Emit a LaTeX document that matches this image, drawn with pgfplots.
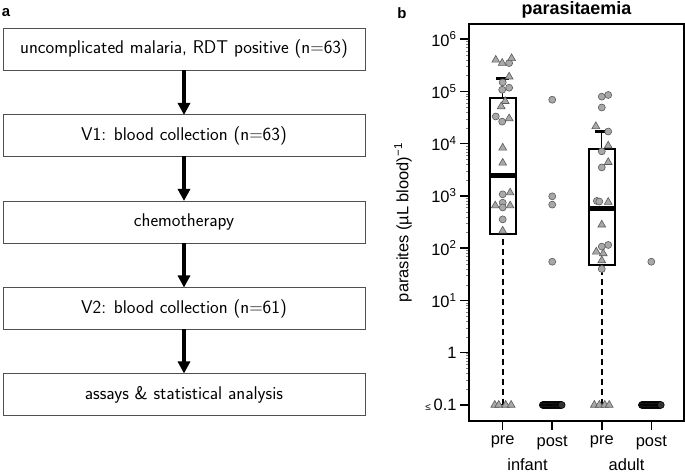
\documentclass[border=0pt]{standalone}
\usepackage{pgfplots}
\pgfplotsset{compat=1.18}
\usepackage{pgfplotstable}
\usepackage{fontspec}
\newfontfamily\helv{Liberation Sans}
\usetikzlibrary{arrows.meta}
\definecolor{ptfill}{HTML}{A8A8A8}
\definecolor{ptdraw}{HTML}{5A5A5A}
\definecolor{boxgray}{HTML}{505050}

% infant pre
\pgfplotstableread{
x y
1.13 347000
1.00 148000
1.13 117000
0.99 107000
0.86 33000
0.99 26300
1.00 1070
1.00 740
1.00 600
1.00 355
}\infpreC
\pgfplotstableread{
x y
0.86 398000
0.99 347000
1.18 427000
1.13 190000
1.05 64600
0.97 51300
1.13 30200
1.00 8300
1.00 4270
1.15 1150
0.85 650
1.15 650
1.00 214
0.84 0.1
0.92 0.1
1.06 0.1
1.17 0.1
}\infpreT
\pgfplotstableread{
x y
2.00 69000
2.00 980
2.00 680
2.00 55
}\infpostC
\pgfplotstableread{
x y
1.81 0.1
1.83 0.1
1.85 0.1
1.87 0.1
1.89 0.1
1.91 0.1
1.93 0.1
1.95 0.1
1.97 0.1
1.99 0.1
2.01 0.1
2.03 0.1
2.05 0.1
2.07 0.1
2.09 0.1
2.11 0.1
2.13 0.1
2.15 0.1
2.17 0.1
2.19 0.1
}\infpostZ
\pgfplotstableread{
x y
3.00 79000
3.13 85000
3.00 49000
3.13 17000
3.00 7100
3.00 3500
2.90 800
2.95 780
3.00 107
3.13 115
3.00 40
}\adpreC
\pgfplotstableread{
x y
2.88 21400
3.13 9100
3.13 4400
3.13 760
3.00 280
2.89 85
3.03 79
3.00 58
2.85 0.1
2.95 0.1
3.06 0.1
3.15 0.1
}\adpreT
\pgfplotstableread{
x y
4.00 55
}\adpostC
\pgfplotstableread{
x y
3.81 0.1
3.83 0.1
3.85 0.1
3.87 0.1
3.89 0.1
3.91 0.1
3.93 0.1
3.95 0.1
3.97 0.1
3.99 0.1
4.01 0.1
4.03 0.1
4.05 0.1
4.07 0.1
4.09 0.1
4.11 0.1
4.13 0.1
4.15 0.1
4.17 0.1
4.19 0.1
}\adpostZ

\begin{document}
\begin{tikzpicture}[x=1bp,y=1bp]
\path[use as bounding box] (0,0) rectangle (685,474);
\tikzset{fbox/.style={draw=boxgray, line width=0.9bp, fill=white, minimum width=362bp, minimum height=42bp, inner sep=0pt, font=\sffamily\fontsize{18.5}{21}\selectfont},
 farr/.style={line width=3.5bp, -{Triangle[width=12bp,length=12bp]}}}
\node[fbox] at (184,425) {uncomplicated malaria, RDT positive (n=63)};
\node[fbox] at (184,338.5) {V1: blood collection (n=63)};
\node[fbox] at (184,252) {chemotherapy};
\node[fbox] at (184,165.5) {V2: blood collection (n=61)};
\node[fbox] at (184,79.5) {assays \& statistical analysis};
\draw[farr] (184,404) -- (184,359);
\draw[farr] (184,317.5) -- (184,273);
\draw[farr] (184,231) -- (184,186.5);
\draw[farr] (184,144.5) -- (184,100.5);
\node[font=\helv\bfseries\fontsize{15}{18}\selectfont] at (6,461) {a};
\node[font=\helv\bfseries\fontsize{15}{18}\selectfont] at (402,461) {b};

\begin{axis}[at={(469bp,53bp)}, anchor=south west, scale only axis,
  width=215bp, height=397bp,
  xmin=0.32, xmax=4.66, ymode=log, ymin=0.0494, ymax=1.94e6,
  clip=false,
  axis line style={line width=2bp},
  major tick style={line width=1.5bp, black},
  major tick length=9bp, tick align=outside, tick pos=left,
  minor tick num=0,
  xtick={1,2,3,4}, xticklabels={pre,post,pre,post},
  ytick={0.1,1,10,100,1000,10000,100000,1000000},
  yticklabels={{\fontsize{10}{10}\selectfont ≤}\,0.1, 1, 10\textsuperscript{1}, 10\textsuperscript{2}, 10\textsuperscript{3}, 10\textsuperscript{4}, 10\textsuperscript{5}, 10\textsuperscript{6}},
  ticklabel style={font=\helv\fontsize{16.5}{19}\selectfont},
  xticklabel style={yshift=-2bp},
  ylabel={parasites (µL blood)\textsuperscript{−1}},
  ylabel style={font=\helv\fontsize{16.5}{19}\selectfont, at={(axis description cs:-0.307,0.5)}, anchor=center},
]
% boxes
\addplot[black, line width=2bp, line join=miter, line cap=rect, no markers] coordinates {(0.74,190)(1.26,190)(1.26,75000)(0.74,75000)(0.74,190)};
\addplot[black, line width=2bp, line join=miter, line cap=rect, no markers] coordinates {(2.74,48)(3.26,48)(3.26,8000)(2.74,8000)(2.74,48)};
\addplot[black, line width=1.8bp, dash pattern=on 6bp off 4bp, no markers] coordinates {(1,0.1)(1,190)};
\addplot[black, line width=1.8bp, dash pattern=on 6bp off 4bp, no markers] coordinates {(3,0.1)(3,48)};
\addplot[black, line width=1.2bp, no markers] coordinates {(1,75000)(1,178000)};
\addplot[black, line width=1.2bp, no markers] coordinates {(3,8000)(3,17000)};
% points
\addplot[only marks, mark=*, mark size=3.5bp, mark options={fill=ptfill, draw=ptdraw, line width=0.6bp}] table {\infpreC};
\addplot[only marks, mark=triangle*, mark size=4.5bp, mark options={fill=ptfill, draw=ptdraw, line width=0.6bp}] table {\infpreT};
\addplot[only marks, mark=*, mark size=3.5bp, mark options={fill=ptfill, draw=ptdraw, line width=0.6bp}] table {\infpostC};
\addplot[only marks, mark=*, mark size=3.5bp, mark options={fill=black!80, draw=black, line width=0.6bp}] table {\infpostZ};
\addplot[only marks, mark=*, mark size=3.5bp, mark options={fill=ptfill, draw=ptdraw, line width=0.6bp}] table {\adpreC};
\addplot[only marks, mark=triangle*, mark size=4.5bp, mark options={fill=ptfill, draw=ptdraw, line width=0.6bp}] table {\adpreT};
\addplot[only marks, mark=*, mark size=3.5bp, mark options={fill=ptfill, draw=ptdraw, line width=0.6bp}] table {\adpostC};
\addplot[only marks, mark=*, mark size=3.5bp, mark options={fill=black!80, draw=black, line width=0.6bp}] table {\adpostZ};
% medians and caps
\addplot[black, line width=5bp, no markers] coordinates {(0.74,2500)(1.26,2500)};
\addplot[black, line width=5bp, no markers] coordinates {(2.74,580)(3.26,580)};
\addplot[black, line width=3bp, no markers] coordinates {(0.87,178000)(1.13,178000)};
\addplot[black, line width=3bp, no markers] coordinates {(2.87,17000)(3.13,17000)};
\addplot[black, line width=1bp, no markers] coordinates {(0.94,0.1)(1.06,0.1)};
\addplot[black, line width=1bp, no markers] coordinates {(2.94,0.1)(3.06,0.1)};
\node[font=\helv\bfseries\fontsize{18}{21}\selectfont, anchor=center, yshift=14bp] at (rel axis cs:0.5,1) {parasitaemia};
\node[font=\helv\fontsize{16.5}{19}\selectfont, anchor=center, yshift=-44bp] at (axis cs:1.5,0.0494) {infant};
\node[font=\helv\fontsize{16.5}{19}\selectfont, anchor=center, yshift=-44bp] at (axis cs:3.5,0.0494) {adult};
\end{axis}
\end{tikzpicture}
\end{document}
